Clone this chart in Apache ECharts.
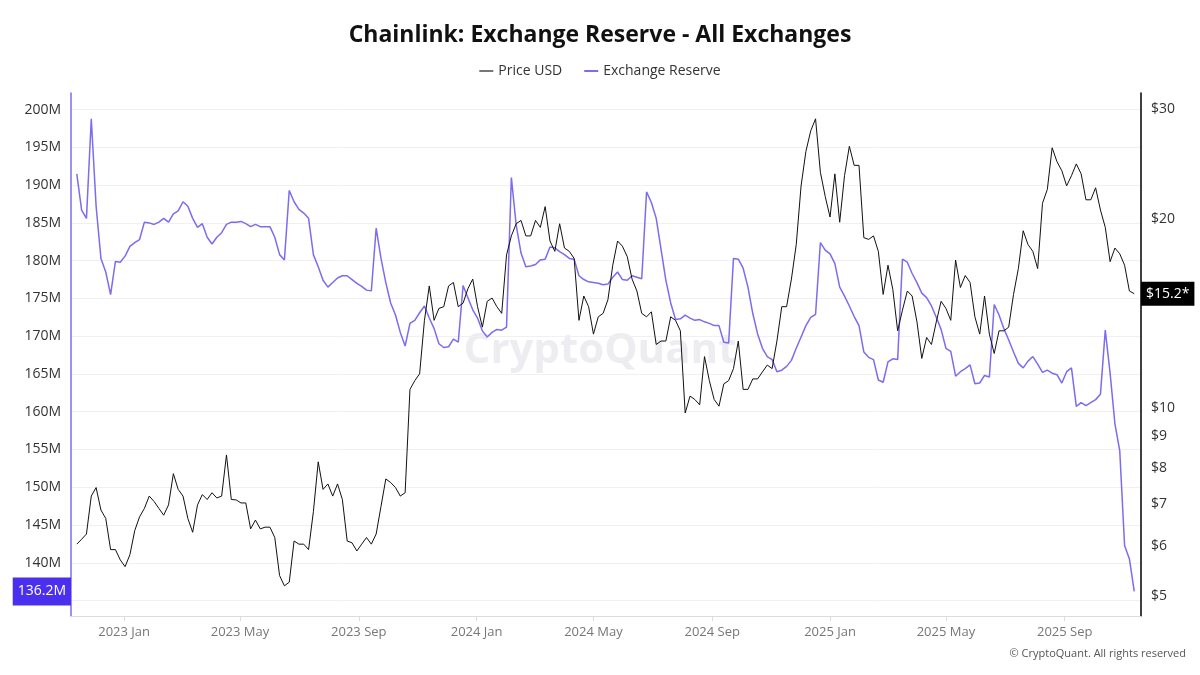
<!DOCTYPE html>
<html>
<head>
<meta charset="utf-8">
<script src="https://cdn.jsdelivr.net/npm/echarts@6/dist/echarts.min.js"></script>
<style>html,body{margin:0;padding:0;background:#fff;}#c{width:1200px;height:675px;}</style>
</head>
<body>
<div id="c"></div>
<script>
// Sampling: one reading every 5 days starting 2022-11-13
const startDate = '2022-11-13';
const stepDays = 5;

// Exchange Reserve (millions of LINK)
const reserve = [
191.5,186.7,185.6,198.8,187.2,180.3,178.5,175.5,179.9,179.8,
180.6,181.9,182.4,182.8,185.1,185.0,184.8,185.1,185.6,185.1,
186.2,186.6,187.8,187.2,185.6,184.4,184.9,183.1,182.2,183.1,
183.7,184.8,185.1,185.1,185.2,184.9,184.5,184.8,184.5,184.5,
184.5,183.1,180.8,180.1,189.3,187.8,186.8,186.3,185.6,180.8,
179.2,177.4,176.5,177.1,177.7,178.0,178.0,177.5,177.0,176.6,
176.1,176.0,184.3,180.3,177.1,174.4,172.8,170.5,168.7,171.7,
172.1,173.1,174.0,172.4,171.0,169.0,168.5,168.6,169.6,169.2,
176.7,175.1,173.5,172.4,170.7,169.9,170.5,170.9,170.8,171.2,
191.0,184.7,181.0,179.2,179.3,179.5,180.1,180.2,181.8,181.7,
181.2,180.8,180.3,180.2,178.0,177.5,177.2,177.1,177.0,176.8,
176.9,177.8,178.5,177.5,177.4,178.0,177.8,177.6,189.1,187.7,
185.6,181.5,177.4,174.4,172.2,172.3,172.8,172.4,172.1,172.2,
171.9,171.7,171.4,171.4,169.2,169.1,180.3,180.2,179.0,176.5,
173.0,170.3,168.4,167.3,166.9,165.3,165.5,166.0,166.8,168.4,
169.9,171.4,172.5,172.9,182.4,181.4,180.9,179.6,176.5,175.3,
174.0,172.6,171.4,167.9,167.2,166.9,164.2,163.9,166.6,167.0,
166.9,180.2,179.8,178.3,177.1,175.7,175.1,174.0,172.5,170.9,
168.4,168.0,164.7,165.3,165.7,166.2,163.7,163.8,164.8,164.6,
174.2,172.8,171.0,169.5,167.9,166.4,165.8,166.7,167.3,166.3,
165.2,165.5,165.1,164.9,163.8,165.3,165.8,160.7,161.2,160.8,
161.2,161.6,162.3,170.8,165.1,158.4,154.8,142.3,140.5,136.2
];

// Price USD
const price = [
6.05,6.16,6.28,7.22,7.45,6.86,6.65,5.93,5.93,5.71,
5.57,5.82,6.36,6.69,6.90,7.22,7.08,6.90,6.73,6.99,
7.84,7.40,7.22,6.65,6.32,6.99,7.26,7.13,7.31,7.17,
7.22,8.40,7.13,7.12,7.04,7.04,6.40,6.61,6.40,6.44,
6.44,6.20,5.39,5.19,5.26,6.12,6.05,6.05,5.93,6.82,
8.19,7.40,7.55,7.22,7.55,7.13,6.12,6.08,5.90,6.05,
6.20,6.05,6.28,6.95,7.69,7.59,7.45,7.22,7.31,10.69,
11.04,11.32,13.78,15.64,13.78,14.40,14.49,15.64,15.84,14.49,
14.68,15.48,16.04,14.49,13.44,14.78,14.96,14.49,14.14,17.53,
18.80,19.66,19.90,18.80,18.80,19.90,19.40,20.94,18.45,17.76,
19.66,17.98,17.76,17.31,13.78,15.07,14.49,13.10,13.96,14.14,
14.87,16.88,18.45,18.10,17.42,16.04,15.35,14.14,13.96,14.22,
12.61,12.77,12.77,13.96,13.78,13.26,9.80,10.43,10.30,10.10,
12.06,11.04,10.30,10.05,10.91,11.04,11.54,12.77,10.69,10.69,
11.11,11.11,11.40,11.69,11.54,12.77,14.49,14.49,16.04,18.21,
22.59,25.65,27.67,28.92,23.76,21.74,20.15,23.62,19.77,23.46,
26.14,24.37,24.37,18.68,18.56,18.80,17.76,15.16,16.88,15.44,
13.26,14.31,15.35,15.07,13.70,11.98,12.94,12.61,13.70,14.78,
14.40,13.78,17.20,15.55,16.25,15.84,13.96,13.10,15.07,13.10,
12.20,13.26,13.26,13.44,15.16,16.67,19.16,18.21,17.76,16.67,
21.20,22.30,26.00,24.70,23.90,22.60,23.46,24.50,23.62,21.47,
21.47,22.44,20.68,19.40,17.10,17.98,17.60,16.88,15.35,15.20
];

// Tick labels
const leftTicks = [135,140,145,150,155,160,165,170,175,180,185,190,195,200];
const rightTicks = [5,6,7,8,9,10,20,30];
const xTickDates = ['2023-01-01','2023-05-01','2023-09-01','2024-01-01','2024-05-01','2024-09-01','2025-01-01','2025-05-01','2025-09-01'];
const monthNames = ['Jan','Feb','Mar','Apr','May','Jun','Jul','Aug','Sep','Oct','Nov','Dec'];

function toUTC(s){ const p = s.split('-').map(Number); return Date.UTC(p[0], p[1]-1, p[2]); }
const t0 = toUTC(startDate);
const dayMs = 86400000;
const priceData = price.map((v,i)=>[t0 + i*stepDays*dayMs, v]);
const reserveData = reserve.map((v,i)=>[t0 + i*stepDays*dayMs, v]);
const xTicks = xTickDates.map(toUTC);

const purple = '#7b6cf0';
const font = 'Open Sans';

const chart = echarts.init(document.getElementById('c'));
chart.setOption({
  animation: false,
  backgroundColor: '#fff',
  textStyle: { fontFamily: font },
  title: {
    text: 'Chainlink: Exchange Reserve - All Exchanges',
    left: 'center', top: 19,
    textStyle: { fontFamily: font, fontSize: 23, fontWeight: 'bold', color: '#111' }
  },
  legend: {
    top: 59, left: 'center', itemGap: 22, itemWidth: 14, itemHeight: 2,
    icon: 'rect',
    textStyle: { fontFamily: font, fontSize: 14, color: '#333' },
    data: [
      { name: 'Price USD', itemStyle: { color: '#777' } },
      { name: 'Exchange Reserve', itemStyle: { color: purple } }
    ]
  },
  grid: { left: 71, right: 59, top: 93, bottom: 59, containLabel: false },
  xAxis: {
    type: 'value',
    min: toUTC('2022-11-07'), max: toUTC('2025-11-19'),
    axisLine: { show: true, lineStyle: { color: '#dcdcdc' } },
    axisTick: { show: true, customValues: xTicks, length: 5, lineStyle: { color: '#dcdcdc' } },
    splitLine: { show: false },
    axisLabel: {
      customValues: xTicks, color: '#777', fontSize: 13, margin: 10,
      formatter: function (v) { const d = new Date(v); return d.getUTCFullYear() + ' ' + monthNames[d.getUTCMonth()]; }
    }
  },
  yAxis: [
    {
      type: 'value', position: 'left',
      min: 132.95, max: 202.2,
      axisLine: { show: true, lineStyle: { color: purple, width: 1.5 } },
      axisTick: { show: false, customValues: leftTicks },
      splitLine: { show: true, lineStyle: { color: '#f0f0f0' } },
      axisLabel: { customValues: leftTicks, color: '#333', fontSize: 14, margin: 10,
        formatter: function (v) { return v + 'M'; } },
      axisPointer: {
        show: true, type: 'none', status: 'show', value: reserve[reserve.length-1], triggerTooltip: false,
        label: { show: true, margin: 0, backgroundColor: '#4a30ee', color: '#fff', fontSize: 14,
          padding: [7, 5, 7, 5], borderRadius: 0, fontFamily: font,
          formatter: function (p) { return Number(p.value).toFixed(1) + 'M'; } }
      }
    },
    {
      type: 'log', logBase: 10, position: 'right',
      min: 4.645, max: 31.8,
      axisLine: { show: true, lineStyle: { color: '#000', width: 1.5 } },
      axisTick: { show: false, customValues: rightTicks },
      splitLine: { show: false },
      axisLabel: { customValues: rightTicks, color: '#333', fontSize: 14, margin: 10,
        formatter: function (v) { return '$' + Math.round(v); } },
      axisPointer: {
        show: true, type: 'none', status: 'show', value: price[price.length-1], triggerTooltip: false,
        label: { show: true, margin: 0, backgroundColor: '#000', color: '#fff', fontSize: 14,
          padding: [5, 5, 5, 5], borderRadius: 0, fontFamily: font,
          formatter: function (p) { return '$' + Number(p.value).toFixed(1) + '*'; } }
      }
    }
  ],
  graphic: [
    { type: 'text', left: 'center', top: 330, z: 0, silent: true,
      style: { text: 'CryptoQuant', fontFamily: font, fontSize: 42, fontWeight: 'bold', fill: 'rgba(200,200,215,0.35)' } },
    { type: 'text', right: 14, top: 648, silent: true,
      style: { text: '© CryptoQuant. All rights reserved', fontFamily: font, fontSize: 11, fill: '#555' } }
  ],
  series: [
    { name: 'Price USD', type: 'line', yAxisIndex: 1, data: priceData, showSymbol: false,
      lineStyle: { color: '#111', width: 1 }, itemStyle: { color: '#111' }, z: 3 },
    { name: 'Exchange Reserve', type: 'line', yAxisIndex: 0, data: reserveData, showSymbol: false,
      lineStyle: { color: purple, width: 1.5 }, itemStyle: { color: purple }, z: 2 }
  ]
});
</script>
</body>
</html>
